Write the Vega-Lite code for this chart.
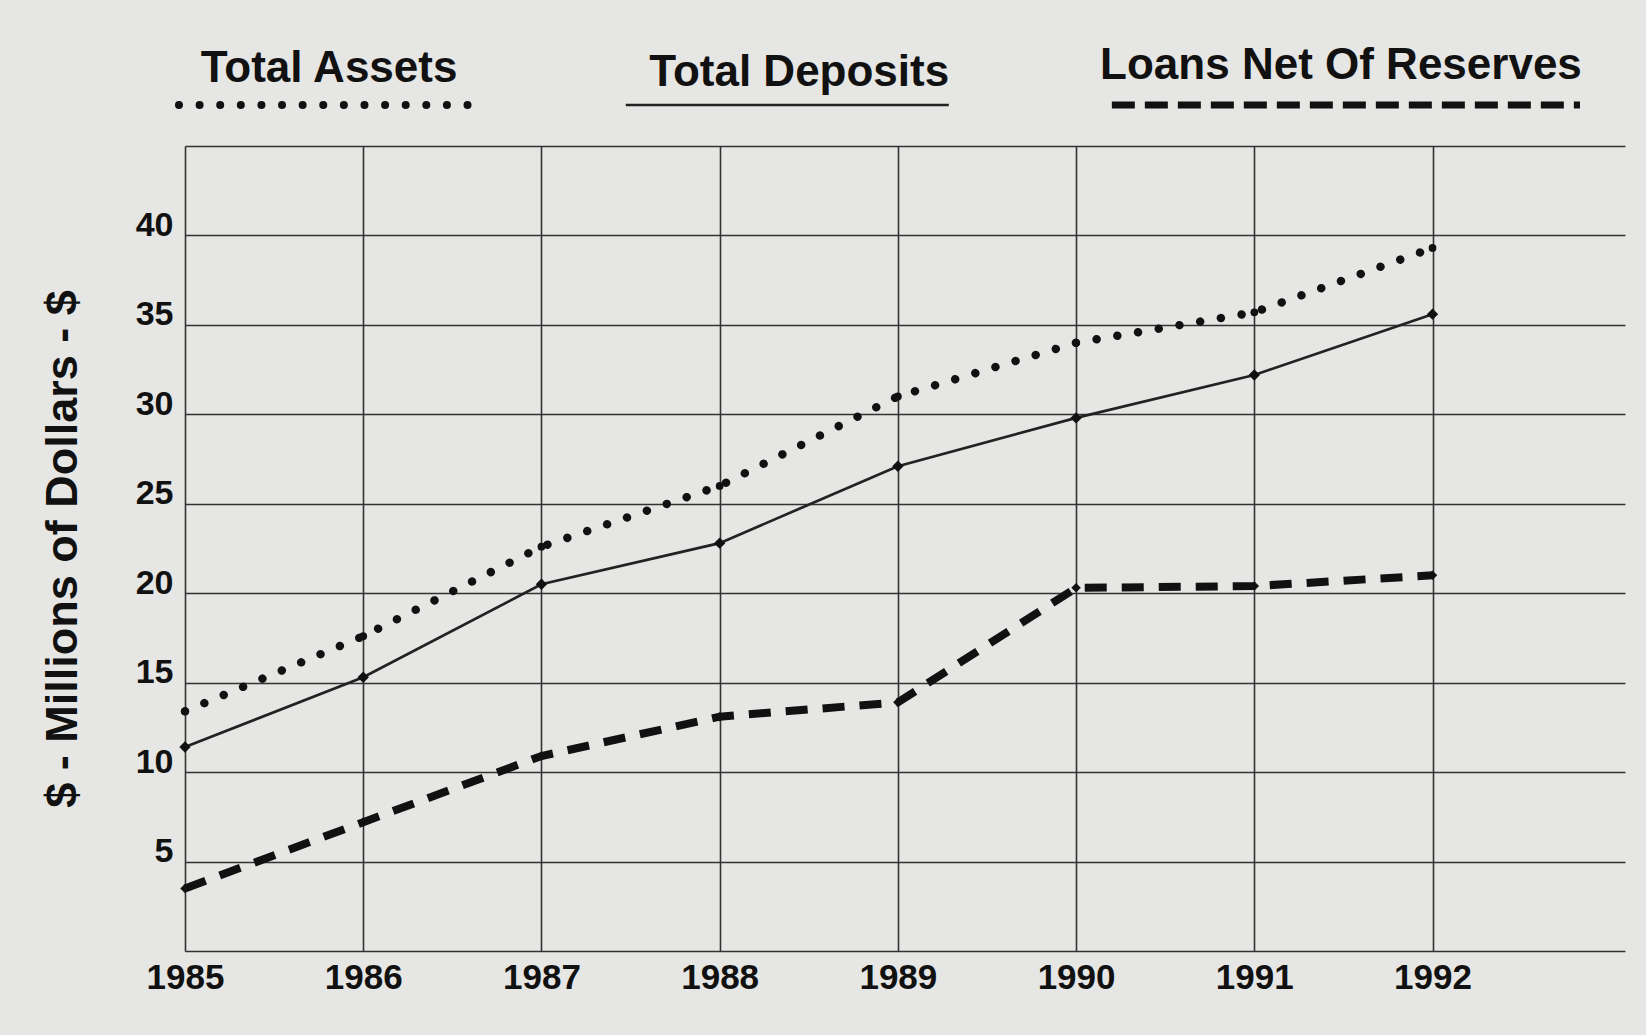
{
  "$schema": "https://vega.github.io/schema/vega-lite/v6.json",
  "background": "#e6e6e4",
  "padding": {"left": 40, "top": 44, "right": 21, "bottom": 45},
  "bounds": "flush",
  "spacing": 11,
  "config": {
    "view": {"stroke": null},
    "font": "Liberation Sans",
    "text": {"font": "Liberation Sans"}
  },
  "datasets": {
    "finance": [
      {"series": "Total Assets", "year": 1985, "value": 13.4},
      {"series": "Total Assets", "year": 1986, "value": 17.6},
      {"series": "Total Assets", "year": 1987, "value": 22.6},
      {"series": "Total Assets", "year": 1988, "value": 26.0},
      {"series": "Total Assets", "year": 1989, "value": 31.0},
      {"series": "Total Assets", "year": 1990, "value": 34.0},
      {"series": "Total Assets", "year": 1991, "value": 35.7},
      {"series": "Total Assets", "year": 1992, "value": 39.3},
      {"series": "Total Deposits", "year": 1985, "value": 11.4},
      {"series": "Total Deposits", "year": 1986, "value": 15.3},
      {"series": "Total Deposits", "year": 1987, "value": 20.5},
      {"series": "Total Deposits", "year": 1988, "value": 22.8},
      {"series": "Total Deposits", "year": 1989, "value": 27.1},
      {"series": "Total Deposits", "year": 1990, "value": 29.8},
      {"series": "Total Deposits", "year": 1991, "value": 32.2},
      {"series": "Total Deposits", "year": 1992, "value": 35.6},
      {"series": "Loans Net Of Reserves", "year": 1985, "value": 3.5},
      {"series": "Loans Net Of Reserves", "year": 1986, "value": 7.2},
      {"series": "Loans Net Of Reserves", "year": 1987, "value": 10.9},
      {"series": "Loans Net Of Reserves", "year": 1988, "value": 13.1},
      {"series": "Loans Net Of Reserves", "year": 1989, "value": 13.9},
      {"series": "Loans Net Of Reserves", "year": 1990, "value": 20.3},
      {"series": "Loans Net Of Reserves", "year": 1991, "value": 20.4},
      {"series": "Loans Net Of Reserves", "year": 1992, "value": 21.0}
    ],
    "legend": [
      {"series": "Total Assets"},
      {"series": "Total Deposits"},
      {"series": "Loans Net Of Reserves"}
    ]
  },
  "vconcat": [
    {
      "width": 1440,
      "height": 60,
      "data": {"name": "legend"},
      "layer": [
        {
          "transform": [{"filter": "datum.series == 'Total Assets'"}],
          "mark": {"type": "text", "fontSize": 44, "fontWeight": "bold", "color": "#111", "align": "center", "baseline": "alphabetic", "dy": -23},
          "encoding": {
            "x": {"field": "series", "type": "nominal", "bandPosition": 0.477, "scale": {"type": "band", "domain": ["Total Assets", "Total Deposits", "Loans Net Of Reserves"], "range": [-93, 1398], "paddingInner": 0, "paddingOuter": 0}, "axis": null},
            "text": {"field": "series"}
          }
        },
        {
          "transform": [{"filter": "datum.series == 'Total Deposits'"}],
          "mark": {"type": "text", "fontSize": 44, "fontWeight": "bold", "color": "#111", "align": "center", "baseline": "alphabetic", "dy": -19},
          "encoding": {
            "x": {"field": "series", "type": "nominal", "bandPosition": 0.423, "axis": null},
            "text": {"field": "series"}
          }
        },
        {
          "transform": [{"filter": "datum.series == 'Loans Net Of Reserves'"}],
          "mark": {"type": "text", "fontSize": 44, "fontWeight": "bold", "color": "#111", "align": "center", "baseline": "alphabetic", "dy": -26},
          "encoding": {
            "x": {"field": "series", "type": "nominal", "bandPosition": 0.513, "axis": null},
            "text": {"field": "series"}
          }
        },
        {
          "transform": [{"filter": "datum.series == 'Total Assets'"}],
          "mark": {"type": "rule", "color": "#111", "strokeWidth": 8, "strokeCap": "round", "strokeDash": [0.01, 20.6]},
          "encoding": {
            "x": {"field": "series", "type": "nominal", "bandPosition": 0.175, "axis": null},
            "x2": {"field": "series", "bandPosition": 0.773}
          }
        },
        {
          "transform": [{"filter": "datum.series == 'Total Deposits'"}],
          "mark": {"type": "rule", "color": "#222", "strokeWidth": 2.5},
          "encoding": {
            "x": {"field": "series", "type": "nominal", "bandPosition": 0.074, "axis": null},
            "x2": {"field": "series", "bandPosition": 0.724}
          }
        },
        {
          "transform": [{"filter": "datum.series == 'Loans Net Of Reserves'"}],
          "mark": {"type": "rule", "color": "#111", "strokeWidth": 7, "strokeDash": [23, 10]},
          "encoding": {
            "x": {"field": "series", "type": "nominal", "bandPosition": 0.052, "axis": null},
            "x2": {"field": "series", "bandPosition": 0.994}
          }
        }
      ]
    },
    {
      "width": 1440,
      "height": 805,
      "data": {"name": "finance"},
      "encoding": {
        "x": {
          "field": "year", "type": "quantitative",
          "scale": {"domain": [1985, 1993.08], "nice": false, "zero": false},
          "axis": {
            "values": [1985, 1986, 1987, 1988, 1989, 1990, 1991, 1992],
            "format": "d", "title": null, "grid": true, "gridColor": "#333", "gridWidth": 1.6,
            "domain": false, "ticks": false, "labelFontSize": 35, "labelFontWeight": "bold",
            "labelColor": "#111", "labelPadding": 9, "labelFont": "Liberation Sans", "labelFlush": false
          }
        },
        "y": {
          "field": "value", "type": "quantitative",
          "scale": {"domain": [0, 45], "nice": false},
          "axis": {
            "values": [0, 5, 10, 15, 20, 25, 30, 35, 40, 45],
            "labelExpr": "datum.value == 0 || datum.value == 45 ? '' : datum.label",
            "title": "$ - Millions of Dollars - $", "titleFontSize": 45, "titleFontWeight": "bold",
            "titleColor": "#111", "titlePadding": 50, "titleFont": "Liberation Sans",
            "grid": true, "gridColor": "#333", "gridWidth": 1.6, "domain": false, "ticks": false,
            "labelFontSize": 34, "labelFontWeight": "bold", "labelColor": "#111",
            "labelBaseline": "alphabetic", "labelPadding": 12, "labelFont": "Liberation Sans"
          }
        }
      },
      "layer": [
        {
          "transform": [{"filter": "datum.series == 'Total Assets'"}],
          "mark": {"type": "line", "color": "#111", "strokeWidth": 8.5, "strokeCap": "round", "strokeDash": [0.01, 21]},
          "encoding": {}
        },
        {
          "transform": [{"filter": "datum.series == 'Total Assets'"}],
          "mark": {"type": "point", "filled": true, "color": "#111", "size": 60, "opacity": 1},
          "encoding": {}
        },
        {
          "transform": [{"filter": "datum.series == 'Total Deposits'"}],
          "mark": {"type": "line", "color": "#222", "strokeWidth": 2.7},
          "encoding": {}
        },
        {
          "transform": [{"filter": "datum.series == 'Total Deposits'"}],
          "mark": {"type": "point", "filled": true, "shape": "diamond", "color": "#111", "size": 130, "opacity": 1},
          "encoding": {}
        },
        {
          "transform": [{"filter": "datum.series == 'Loans Net Of Reserves'"}],
          "mark": {"type": "line", "color": "#111", "strokeWidth": 8, "strokeDash": [22, 15]},
          "encoding": {}
        },
        {
          "transform": [{"filter": "datum.series == 'Loans Net Of Reserves'"}],
          "mark": {"type": "point", "filled": true, "shape": "diamond", "color": "#111", "size": 90, "opacity": 1},
          "encoding": {}
        }
      ]
    }
  ]
}
